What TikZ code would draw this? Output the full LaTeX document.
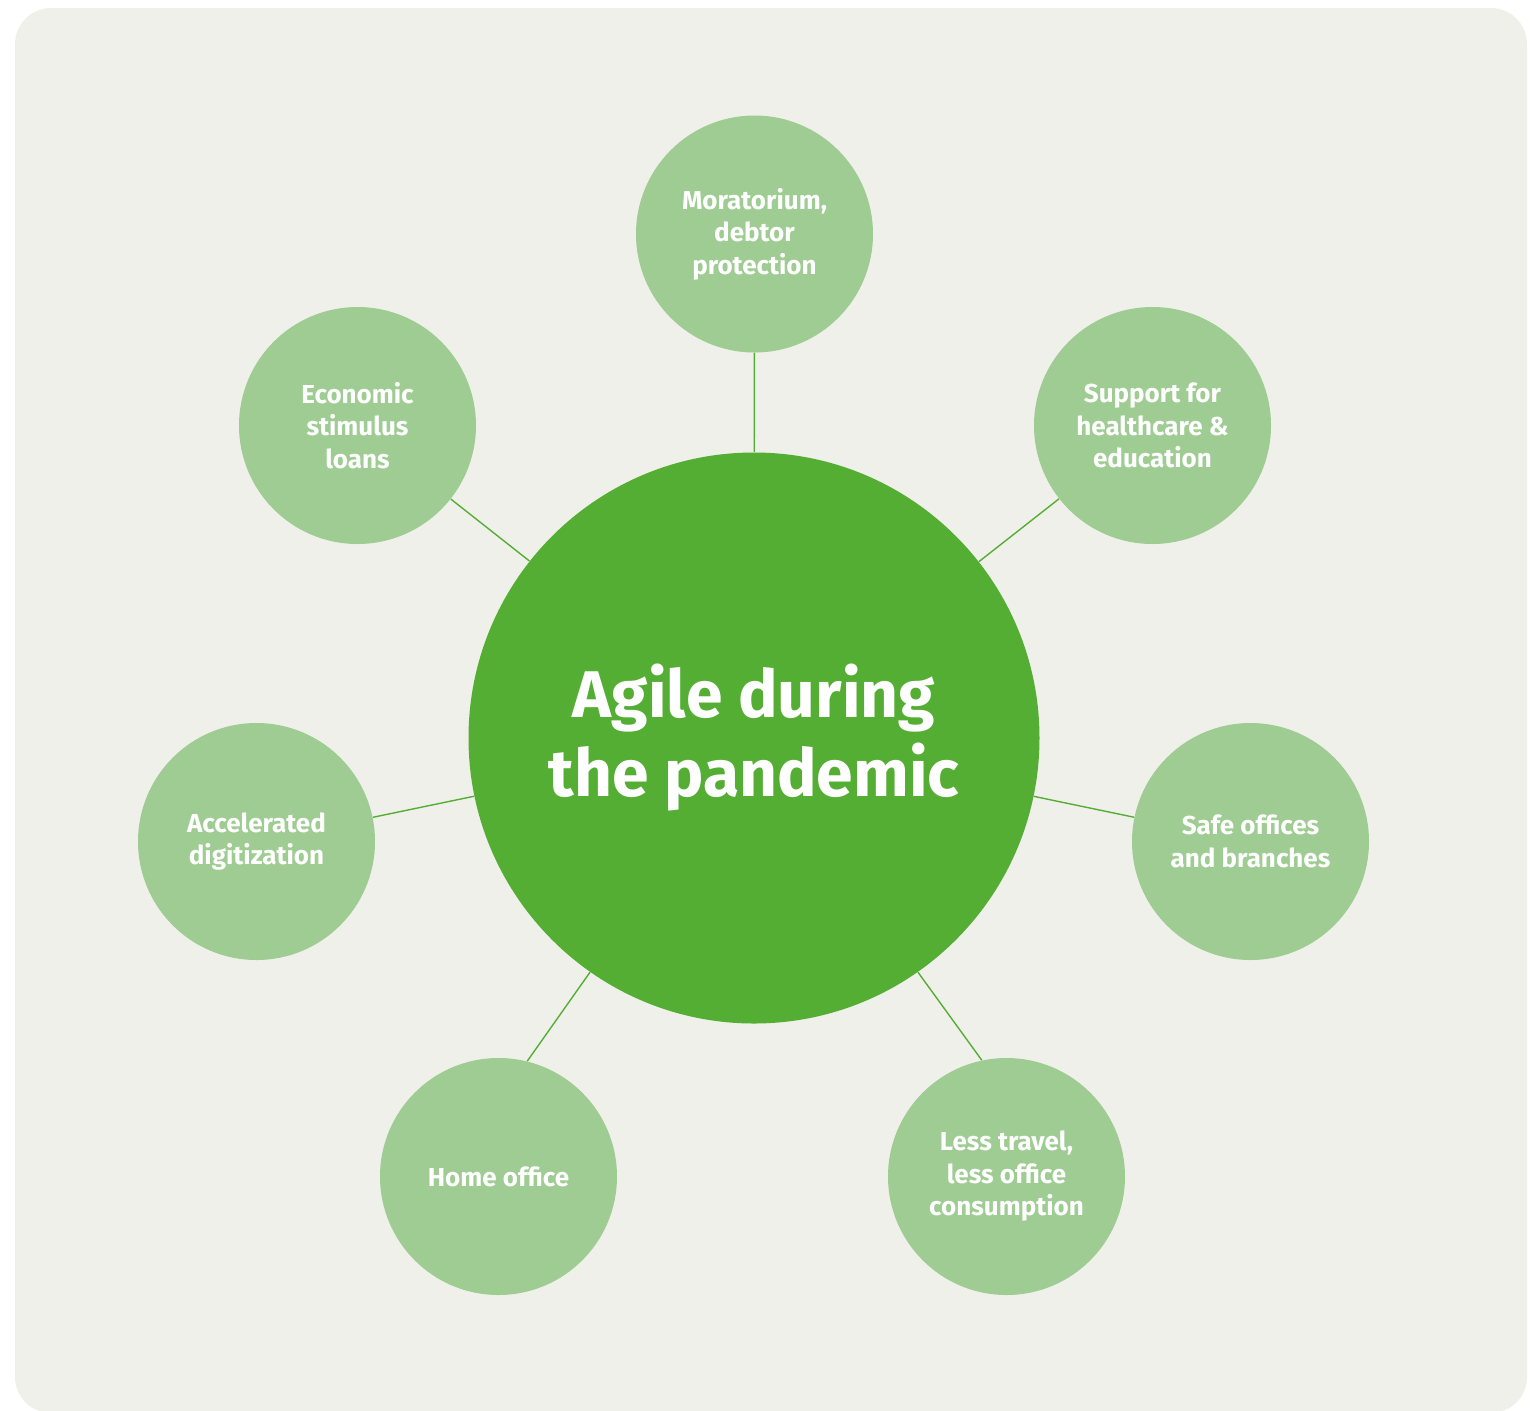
\documentclass[tikz,border=0pt]{standalone}
\usepackage{fontspec}
\setmainfont{Fira Sans}
\definecolor{panelgray}{HTML}{F0F0EA}
\definecolor{hubgreen}{HTML}{55AE34}
\definecolor{topicgreen}{HTML}{9ECC92}

\begin{document}
\begin{tikzpicture}
        [x=0.5pt,y=-0.5pt,
        every node/.style={circle,inner sep=0pt,text=white,align=center},
        hub/.style={fill=hubgreen,minimum size=285.5pt,
                    font=\bfseries\fontsize{33}{39.5}\selectfont},
        topic/.style={fill=topicgreen,minimum size=118.5pt,
                    font=\bfseries\fontsize{13}{16.25}\selectfont},
        link/.style={draw=hubgreen,line width=0.7pt}]
        \useasboundingbox (0,0) rectangle (1533,1410);
        \fill[panelgray,rounded corners=18pt] (15,8) rectangle (1527,1413);
        \node[hub] (agile) at (754,738) {Agile during\\the pandemic};
        \node[topic] (morat) at (754.5,234) {Moratorium,\\debtor\\protection};
        \node[topic] (support) at (1152.5,425.5) {Support for\\healthcare \&\\education};
        \node[topic] (safe) at (1250.5,841.5) {Safe offices\\and branches};
        \node[topic] (travel) at (1006.5,1176.5) {Less travel,\\less office\\consumption};
        \node[topic] (home) at (498.5,1176.5) {Home office};
        \node[topic] (digit) at (256.5,841.5) {Accelerated\\digitization};
        \node[topic] (loans) at (357.5,425.5) {Economic\\stimulus\\loans};
        % spokes
        \draw[link] (agile) -- (morat);
        \draw[link] (agile) -- (support);
        \draw[link] (agile) -- (safe);
        \draw[link] (agile.305) -- (travel.102);
        \draw[link] (agile.235) -- (home.76);
        \draw[link] (agile) -- (digit);
        \draw[link] (agile) -- (loans);
\end{tikzpicture}
\end{document}
